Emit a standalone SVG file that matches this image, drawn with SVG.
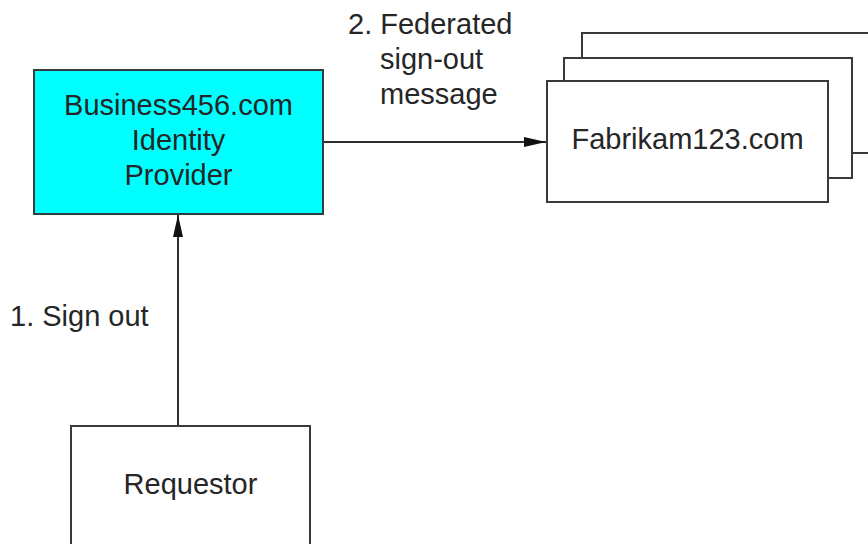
<svg xmlns="http://www.w3.org/2000/svg" width="868" height="544" viewBox="0 0 868 544">
  <style>
    .box { fill: #ffffff; stroke: #3a3a3a; stroke-width: 2; }
    .idp { fill: #00ffff; stroke: #3a3a3a; stroke-width: 2; }
    .t { font-family: "Liberation Sans", Arial, sans-serif; font-size: 29px; fill: #262626; }
    .c { text-anchor: middle; }
    .edge { stroke: #2e2e2e; stroke-width: 2; fill: none; }
  </style>
  <defs>
    <marker id="arrow" viewBox="0 0 22 10" refX="22" refY="5" markerWidth="22" markerHeight="10" markerUnits="userSpaceOnUse" orient="auto">
      <path d="M0,0 L22,5 L0,10 Z" fill="#111111"/>
    </marker>
  </defs>

  <rect width="868" height="544" fill="#ffffff"/>

  <g id="connectors">
    <line class="edge" x1="323" y1="142" x2="546" y2="142" marker-end="url(#arrow)"/>
    <line class="edge" x1="178" y1="426" x2="178" y2="215" marker-end="url(#arrow)"/>
    <text class="t" x="348" y="34">2. Federated</text>
    <text class="t" x="380" y="69">sign-out</text>
    <text class="t" x="380" y="104">message</text>
    <text class="t" x="10" y="326">1. Sign out</text>
  </g>

  <g id="idp">
    <rect class="idp" x="34" y="70" width="289" height="144"/>
    <text class="t c" x="178.5" y="115">Business456.com</text>
    <text class="t c" x="178.5" y="150">Identity</text>
    <text class="t c" x="178.5" y="185">Provider</text>
  </g>

  <g id="fabrikam">
    <rect class="box" x="582" y="33" width="300" height="120"/>
    <rect class="box" x="564" y="58" width="288" height="120"/>
    <rect class="box" x="547" y="81" width="281" height="121"/>
    <text class="t c" x="687.5" y="149">Fabrikam123.com</text>
  </g>

  <g id="requestor">
    <rect class="box" x="71" y="426" width="239" height="130"/>
    <text class="t c" x="190.5" y="494">Requestor</text>
  </g>
</svg>
